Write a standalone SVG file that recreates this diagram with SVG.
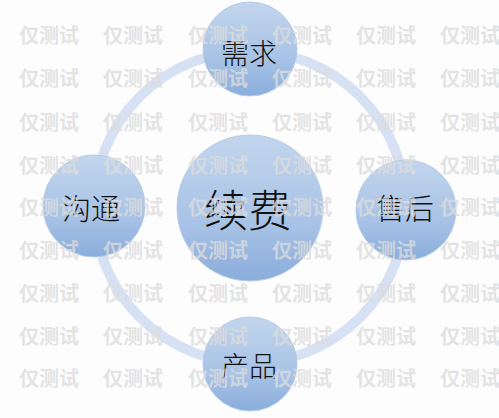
<svg xmlns="http://www.w3.org/2000/svg" width="499" height="418" viewBox="0 0 499 418">
<defs>
<linearGradient id="g" x1="0" y1="0" x2="0" y2="1">
<stop offset="0" stop-color="#c2d5ed"/>
<stop offset="0.6" stop-color="#a8c3e6"/>
<stop offset="1" stop-color="#8aaddb"/>
</linearGradient>
<style>
.node{fill:url(#g);stroke:#b6cbe7;stroke-width:1}
.lbl{font-family:"Noto Sans CJK SC","Noto Sans CJK JP",sans-serif;font-weight:300;fill:#111;text-anchor:middle;dominant-baseline:central}
.wm{font-family:"Noto Sans CJK SC","Noto Sans CJK JP",sans-serif;font-weight:700;font-size:20px;fill:#dcdcdc;fill-opacity:0.8;text-anchor:middle;dominant-baseline:central}
</style>
</defs>
<rect width="499" height="418" fill="#fdfdfe"/>
<g id="connectors">
<circle cx="250" cy="207" r="156" fill="none" stroke="#d6e1f3" stroke-width="10"/>
</g>
<g id="center"><circle class="node" cx="250" cy="208" r="73"/><text class="lbl" x="248" y="208" font-size="44">续费</text></g>
<g id="need"><circle class="node" cx="250" cy="49" r="47"/><text class="lbl" x="249" y="52" font-size="28">需求</text></g>
<g id="product"><circle class="node" cx="250" cy="364" r="47"/><text class="lbl" x="249" y="365" font-size="28">产品</text></g>
<g id="comm"><circle class="node" cx="94" cy="206" r="51"/><text class="lbl" x="91" y="207" font-size="29">沟通</text></g>
<g id="after"><circle class="node" cx="406" cy="210" r="50"/><text class="lbl" x="405" y="207" font-size="29">售后</text></g>
<g id="watermark">
<text class="wm" x="49" y="34">仅测试</text><text class="wm" x="133" y="34">仅测试</text><text class="wm" x="218" y="34">仅测试</text><text class="wm" x="302" y="34">仅测试</text><text class="wm" x="386" y="34">仅测试</text><text class="wm" x="470" y="34">仅测试</text>
<text class="wm" x="49" y="77">仅测试</text><text class="wm" x="133" y="77">仅测试</text><text class="wm" x="218" y="77">仅测试</text><text class="wm" x="302" y="77">仅测试</text><text class="wm" x="386" y="77">仅测试</text><text class="wm" x="470" y="77">仅测试</text>
<text class="wm" x="49" y="121">仅测试</text><text class="wm" x="133" y="121">仅测试</text><text class="wm" x="218" y="121">仅测试</text><text class="wm" x="302" y="121">仅测试</text><text class="wm" x="386" y="121">仅测试</text><text class="wm" x="470" y="121">仅测试</text>
<text class="wm" x="49" y="164">仅测试</text><text class="wm" x="133" y="164">仅测试</text><text class="wm" x="218" y="164">仅测试</text><text class="wm" x="302" y="164">仅测试</text><text class="wm" x="386" y="164">仅测试</text><text class="wm" x="470" y="164">仅测试</text>
<text class="wm" x="49" y="206">仅测试</text><text class="wm" x="133" y="206">仅测试</text><text class="wm" x="218" y="206">仅测试</text><text class="wm" x="302" y="206">仅测试</text><text class="wm" x="386" y="206">仅测试</text><text class="wm" x="470" y="206">仅测试</text>
<text class="wm" x="49" y="249">仅测试</text><text class="wm" x="133" y="249">仅测试</text><text class="wm" x="218" y="249">仅测试</text><text class="wm" x="302" y="249">仅测试</text><text class="wm" x="386" y="249">仅测试</text><text class="wm" x="470" y="249">仅测试</text>
<text class="wm" x="49" y="292">仅测试</text><text class="wm" x="133" y="292">仅测试</text><text class="wm" x="218" y="292">仅测试</text><text class="wm" x="302" y="292">仅测试</text><text class="wm" x="386" y="292">仅测试</text><text class="wm" x="470" y="292">仅测试</text>
<text class="wm" x="49" y="335">仅测试</text><text class="wm" x="133" y="335">仅测试</text><text class="wm" x="218" y="335">仅测试</text><text class="wm" x="302" y="335">仅测试</text><text class="wm" x="386" y="335">仅测试</text><text class="wm" x="470" y="335">仅测试</text>
<text class="wm" x="49" y="377">仅测试</text><text class="wm" x="133" y="377">仅测试</text><text class="wm" x="218" y="377">仅测试</text><text class="wm" x="302" y="377">仅测试</text><text class="wm" x="386" y="377">仅测试</text><text class="wm" x="470" y="377">仅测试</text>
</g>
</svg>
